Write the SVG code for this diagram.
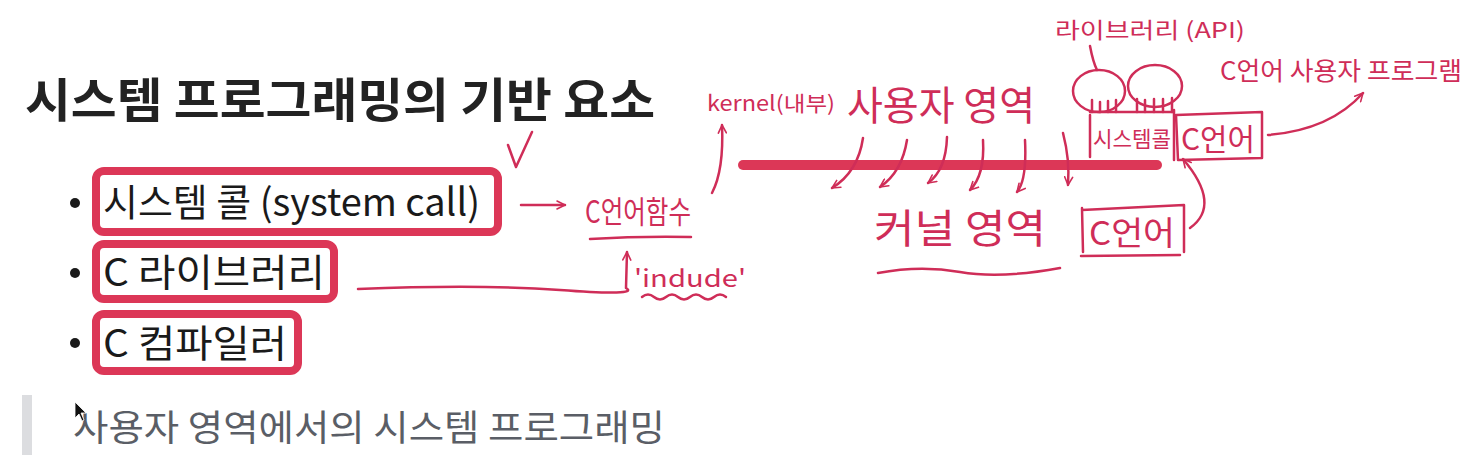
<svg xmlns="http://www.w3.org/2000/svg" width="1475" height="462" viewBox="0 0 1475 462">
<style>
.title{font-family:"Noto Sans CJK KR","Noto Sans",sans-serif;font-weight:700;font-size:47px;fill:#222}
.item{font-family:"Noto Sans CJK KR","Noto Sans",sans-serif;font-weight:400;font-size:38px;fill:#1a1a1a}
.quote{font-family:"Noto Sans CJK KR","Noto Sans",sans-serif;font-weight:400;font-size:36px;fill:#5a5e66}
.hbox{fill:#fff;stroke:#dc3757;stroke-width:8}
.hw{font-family:"Noto Sans CJK KR","Noto Sans",sans-serif;font-weight:400;fill:#cf2d58}
.pen{fill:none;stroke:#cf2d58;stroke-width:2.5;stroke-linecap:round;stroke-linejoin:round}
.dot{fill:#1a1a1a}
</style>
<defs>
<marker id="ah" viewBox="0 0 10 10" refX="9" refY="5" markerWidth="10" markerHeight="10" markerUnits="userSpaceOnUse" orient="auto">
<path d="M1,1 L9,5 L1,9" fill="none" stroke="#cf2d58" stroke-width="1.6" stroke-linecap="round" stroke-linejoin="round"/>
</marker>
</defs>
<rect width="1475" height="462" fill="#fff"/>

<g id="title"><text class="title" x="25" y="117" textLength="630" lengthAdjust="spacingAndGlyphs">시스템 프로그래밍의 기반 요소</text></g>

<g id="item-syscall">
<circle class="dot" cx="75" cy="203" r="5"/>
<rect class="hbox" x="96" y="171" width="402" height="61" rx="8"/>
<text class="item" x="103" y="216" textLength="377" lengthAdjust="spacingAndGlyphs">시스템 콜 (system call)</text>
</g>
<g id="item-clib">
<circle class="dot" cx="75" cy="273" r="5"/>
<rect class="hbox" x="96" y="244" width="238" height="55" rx="8"/>
<text class="item" x="103" y="286" textLength="222" lengthAdjust="spacingAndGlyphs">C 라이브러리</text>
</g>
<g id="item-ccompiler">
<circle class="dot" cx="75" cy="343" r="5"/>
<rect class="hbox" x="96" y="314" width="202" height="57" rx="8"/>
<text class="item" x="103" y="357" textLength="184" lengthAdjust="spacingAndGlyphs">C 컴파일러</text>
</g>

<g id="quote">
<rect x="22" y="395" width="10" height="60" fill="#dcdde0"/>
<text class="quote" x="73" y="441" textLength="592" lengthAdjust="spacingAndGlyphs">사용자 영역에서의 시스템 프로그래밍</text>
<path d="M75,402 L75,418 L79,414 L82,421 L84,420 L81,413 L86,413 Z" fill="#111" stroke="#fff" stroke-width="0.8"/>
</g>

<g id="annot-check"><path class="pen" d="M508,145 L516,167 L532,132"/></g>

<g id="annot-cfunc">
<text class="hw" x="585" y="223" font-size="31" textLength="106" lengthAdjust="spacingAndGlyphs">C언어함수</text>
<path class="pen" d="M590,239 Q640,236 691,237"/>
</g>

<g id="annot-include">
<text class="hw" x="634" y="287" font-size="24" textLength="112" lengthAdjust="spacingAndGlyphs">'indude'</text>
<path class="pen" d="M642,297 q6,-5 12,0 t12,0 t12,0 t12,0 t12,0 t12,0 t12,0"/>
</g>

<g id="annot-kernel">
<text class="hw" x="707" y="111" font-size="21" textLength="128" lengthAdjust="spacingAndGlyphs">kernel(내부)</text>
</g>

<g id="annot-user">
<text class="hw" x="847" y="120" font-size="40" textLength="188" lengthAdjust="spacingAndGlyphs">사용자 영역</text>
</g>

<g id="annot-kernelspace">
<text class="hw" x="874" y="243" font-size="40" textLength="172" lengthAdjust="spacingAndGlyphs">커널 영역</text>
<path class="pen" d="M878,273 Q920,265 960,272 T1060,268"/>
</g>

<g id="boundary">
<line x1="743" y1="165" x2="1157" y2="165" stroke="#dc3757" stroke-width="10" stroke-linecap="round"/>
</g>

<g id="lib-api">
<text class="hw" x="1055" y="38" font-size="22" textLength="190" lengthAdjust="spacingAndGlyphs">라이브러리 (API)</text>
<ellipse class="pen" cx="1099" cy="91" rx="26" ry="21"/>
<ellipse class="pen" cx="1155" cy="86" rx="27" ry="21"/>
<path class="pen" d="M1092,100 V112 M1100,102 V112 M1108,101 V112 M1116,100 V112 M1137,99 V112 M1145,100 V112 M1154,99 V112 M1163,99 V112 M1172,98 V112"/>
</g>

<g id="box-syscall">
<path class="pen" d="M1090,112 H1174 M1090,115 V157 M1174,110 V160"/>
<text class="hw" x="1093" y="147" font-size="22" textLength="78" lengthAdjust="spacingAndGlyphs">시스템콜</text>
</g>

<g id="box-clang-user">
<path class="pen" d="M1176,115 L1262,112 L1262,158 L1178,160 Z"/>
<text class="hw" x="1181" y="150" font-size="30" textLength="74" lengthAdjust="spacingAndGlyphs">C언어</text>
</g>

<g id="box-clang-kernel">
<path class="pen" d="M1082,210 L1184,205 M1082,208 L1083,252 M1184,205 L1184,252 M1081,256 L1180,255"/>
<text class="hw" x="1089" y="245" font-size="33" textLength="86" lengthAdjust="spacingAndGlyphs">C언어</text>
</g>

<g id="annot-cprog">
<text class="hw" x="1220" y="80" font-size="25" textLength="242" lengthAdjust="spacingAndGlyphs">C언어 사용자 프로그램</text>
</g>

<g id="connectors">
<path class="pen" d="M521,205 L565,205" marker-end="url(#ah)"/>
<path class="pen" d="M358,289 Q480,284 560,290 T626,288 L627,252" marker-end="url(#ah)"/>
<path class="pen" d="M712,193 Q724,170 722,125" marker-end="url(#ah)"/>
<path class="pen" d="M863,138 Q858,172 832,188" marker-end="url(#ah)"/>
<path class="pen" d="M907,140 Q902,172 880,187" marker-end="url(#ah)"/>
<path class="pen" d="M947,137 Q946,170 928,183" marker-end="url(#ah)"/>
<path class="pen" d="M983,140 Q985,175 970,190" marker-end="url(#ah)"/>
<path class="pen" d="M1025,140 Q1027,180 1017,192" marker-end="url(#ah)"/>
<path class="pen" d="M1063,133 Q1070,160 1068,185" marker-end="url(#ah)"/>
<path class="pen" d="M1090,46 Q1093,62 1097,70"/>
<path class="pen" d="M1190,228 Q1222,205 1183,159" marker-end="url(#ah)"/>
<path class="pen" d="M1268,135 Q1330,130 1363,93" marker-end="url(#ah)"/>
</g>
</svg>
